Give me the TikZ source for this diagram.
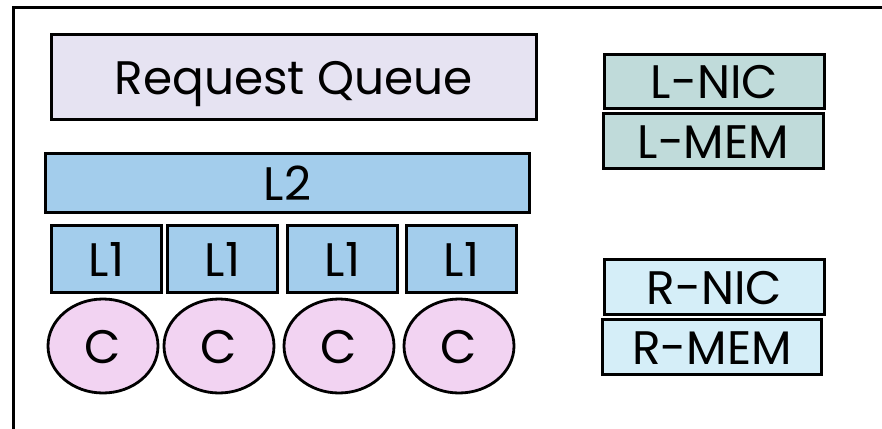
\documentclass[tikz,border=0pt]{standalone}
\usepackage{fontspec}
\setmainfont{Poppins}
\usetikzlibrary{shapes.geometric}
\definecolor{queuefill}{HTML}{E6E3F2}
\definecolor{cachefill}{HTML}{A3CDEC}
\definecolor{corefill}{HTML}{F2D3F2}
\definecolor{localfill}{HTML}{C0DBDA}
\definecolor{remotefill}{HTML}{D5EEF8}
\tikzset{
  box/.style={draw=black, line width=2.8pt, rectangle, inner sep=0pt, anchor=north west},
  label/.style={anchor=base, inner sep=0pt, font=\fontsize{47}{47}\selectfont, yshift=-17.5pt},
  core/.style={draw=black, line width=2.8pt, ellipse, inner sep=0pt,
    minimum width=110, minimum height=94, fill=corefill},
}
\begin{document}
\begin{tikzpicture}[x=1pt, y=-1pt]
\useasboundingbox (0,0) rectangle (882,428);
% open outer frame
\draw[line width=3pt] (13,430) -- (13,8) -- (884,8);
% request queue and shared cache
\node[box, fill=queuefill, minimum width=485, minimum height=85] (rq) at (50,33) {};
\node[label] at (rq.center) {Request Queue};
\node[box, fill=cachefill, minimum width=484, minimum height=59] (l2) at (44,152) {};
\node[label] at (l2.center) {L2};
% private caches
\foreach \i/\x in {1/50, 2/166, 3/286, 4/405}{
  \node[box, fill=cachefill, minimum width=110, minimum height=67] (l1\i) at (\x,224) {};
  \node[label] at (l1\i.center) {L1};
}
% cores
\foreach \i/\x in {1/103, 2/219, 3/339, 4/459}{
  \node[core] (c\i) at (\x,346) {};
  \node[label] at (c\i.center) {C};
}
% local side
\node[box, fill=localfill, minimum width=220, minimum height=54] (lnic) at (603,53) {};
\node[label] at (lnic.center) {L-NIC};
\node[box, fill=localfill, minimum width=220, minimum height=55] (lmem) at (602,112) {};
\node[label] at (lmem.center) {L-MEM};
% remote side
\node[box, fill=remotefill, minimum width=220, minimum height=55] (rnic) at (603,258) {};
\node[label] at (rnic.center) {R-NIC};
\node[box, fill=remotefill, minimum width=219, minimum height=55] (rmem) at (601,318) {};
\node[label] at (rmem.center) {R-MEM};
\end{tikzpicture}
\end{document}
